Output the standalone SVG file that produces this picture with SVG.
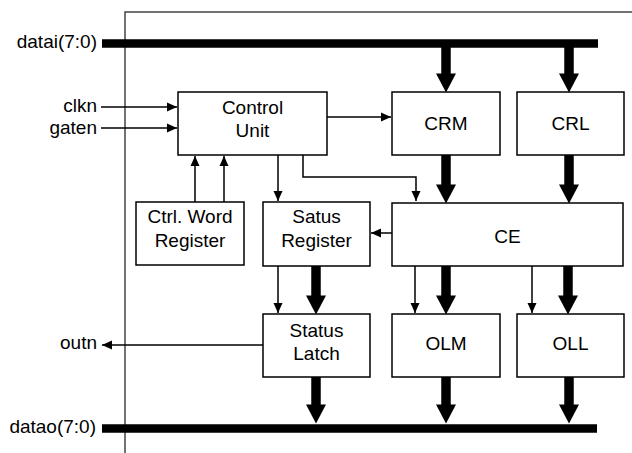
<svg xmlns="http://www.w3.org/2000/svg" width="632" height="453" viewBox="0 0 632 453">
<style>
.box{fill:#fff;stroke:#000;stroke-width:1.5}
.t{font-family:"Liberation Sans",Arial,sans-serif;font-size:19px;fill:#000}
.c{text-anchor:middle}
.e{text-anchor:end}
.thin{fill:none;stroke:#000;stroke-width:1.5;marker-end:url(#ah)}
.thick{fill:none;stroke:#000;stroke-width:9.5;marker-end:url(#bh)}
.bus{stroke:#000;stroke-width:8.5}
.frame{fill:none;stroke:#444;stroke-width:1.5}
</style>
<defs>
<marker id="ah" markerUnits="userSpaceOnUse" markerWidth="12" markerHeight="12" refX="10" refY="0" viewBox="0 -6 12 12" orient="auto" overflow="visible">
<path d="M0,-4.5 L10,0 L0,4.5 z" fill="#000"/>
</marker>
<marker id="bh" markerUnits="userSpaceOnUse" markerWidth="20" markerHeight="22" refX="0" refY="0" viewBox="0 -11 20 22" orient="auto" overflow="visible">
<path d="M-0.5,-10 L18.5,0 L-0.5,10 z" fill="#000"/>
</marker>
</defs>
<rect width="632" height="453" fill="#fff"/>
<path class="frame" d="M125,453 V12 H633"/>

<g id="connectors">
<line class="bus" x1="102" y1="43.5" x2="598" y2="43.5"/>
<line class="bus" x1="102" y1="428.5" x2="597" y2="428.5"/>
<line class="thin" x1="101" y1="107" x2="177" y2="107"/>
<line class="thin" x1="101" y1="128" x2="177" y2="128"/>
<line class="thin" x1="327" y1="117" x2="391" y2="117"/>
<line class="thin" x1="195" y1="202" x2="195" y2="156"/>
<line class="thin" x1="224" y1="202" x2="224" y2="156"/>
<line class="thin" x1="278" y1="155" x2="278" y2="201"/>
<path class="thin" d="M303,155 V177 H416 V201"/>
<line class="thin" x1="392" y1="233" x2="371" y2="233"/>
<line class="thin" x1="278" y1="266" x2="278" y2="313"/>
<line class="thin" x1="415" y1="266" x2="415" y2="313"/>
<line class="thin" x1="532" y1="266" x2="532" y2="313"/>
<line class="thin" x1="263" y1="345" x2="102" y2="345"/>
<line class="thick" x1="446" y1="47" x2="446" y2="74"/>
<line class="thick" x1="569" y1="47" x2="569" y2="74"/>
<line class="thick" x1="446" y1="155" x2="446" y2="185"/>
<line class="thick" x1="569" y1="155" x2="569" y2="185"/>
<line class="thick" x1="316" y1="266" x2="316" y2="296"/>
<line class="thick" x1="446" y1="266" x2="446" y2="296"/>
<line class="thick" x1="568" y1="266" x2="568" y2="296"/>
<line class="thick" x1="316" y1="377" x2="316" y2="405"/>
<line class="thick" x1="446" y1="377" x2="446" y2="405"/>
<line class="thick" x1="569" y1="377" x2="569" y2="405"/>
</g>

<g id="labels">
<text class="t e" x="97" y="48">datai(7:0)</text>
<text class="t e" x="97" y="112">clkn</text>
<text class="t e" x="97" y="134">gaten</text>
<text class="t e" x="97" y="349">outn</text>
<text class="t e" x="96" y="433">datao(7:0)</text>
</g>

<g id="control-unit">
<rect class="box" x="178" y="92" width="149" height="63"/>
<text class="t c" x="252.5" y="114">Control</text>
<text class="t c" x="252.5" y="137">Unit</text>
</g>
<g id="crm">
<rect class="box" x="392" y="92" width="108" height="63"/>
<text class="t c" x="446" y="130">CRM</text>
</g>
<g id="crl">
<rect class="box" x="517" y="92" width="107" height="63"/>
<text class="t c" x="570.5" y="130">CRL</text>
</g>
<g id="ctrl-word-register">
<rect class="box" x="136" y="202" width="108" height="63"/>
<text class="t c" x="190" y="223">Ctrl. Word</text>
<text class="t c" x="190" y="247">Register</text>
</g>
<g id="satus-register">
<rect class="box" x="263" y="202" width="107" height="64"/>
<text class="t c" x="316.5" y="223">Satus</text>
<text class="t c" x="316.5" y="247">Register</text>
</g>
<g id="ce">
<rect class="box" x="392" y="203" width="231" height="63"/>
<text class="t c" x="507.5" y="243">CE</text>
</g>
<g id="status-latch">
<rect class="box" x="263" y="314" width="107" height="63"/>
<text class="t c" x="316.5" y="337">Status</text>
<text class="t c" x="316.5" y="360">Latch</text>
</g>
<g id="olm">
<rect class="box" x="392" y="314" width="108" height="63"/>
<text class="t c" x="446" y="350">OLM</text>
</g>
<g id="oll">
<rect class="box" x="517" y="314" width="107" height="63"/>
<text class="t c" x="570.5" y="350">OLL</text>
</g>
</svg>
